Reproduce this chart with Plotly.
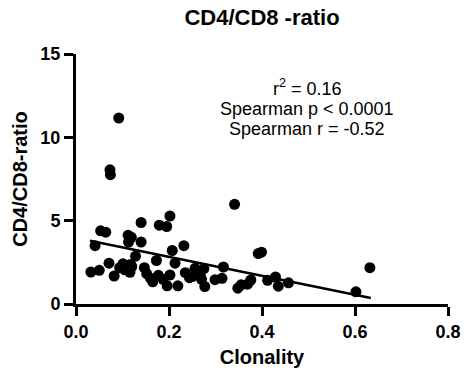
import plotly.graph_objects as go

clonality = [0.032, 0.050, 0.041, 0.053, 0.064, 0.071, 0.073, 0.074, 0.092, 0.082,
             0.094, 0.101, 0.108, 0.116, 0.117, 0.112, 0.119, 0.113, 0.128, 0.140,
             0.140, 0.147, 0.152, 0.165, 0.173, 0.177, 0.179, 0.187, 0.195, 0.202,
             0.196, 0.202, 0.207, 0.213, 0.219, 0.232, 0.235, 0.244, 0.256, 0.267,
             0.275, 0.270, 0.277, 0.299, 0.314, 0.317, 0.341, 0.348, 0.355, 0.369,
             0.376, 0.392, 0.399, 0.412, 0.429, 0.435, 0.457, 0.602, 0.632, 0.105,
             0.160, 0.250, 0.120]
ratio = [1.92, 2.02, 3.50, 4.39, 4.31, 2.45, 8.05, 7.76, 11.16, 1.68,
         2.18, 2.41, 2.18, 1.90, 2.37, 4.12, 4.00, 3.72, 2.87, 4.89,
         3.72, 2.18, 1.82, 1.33, 2.61, 1.72, 4.73, 1.48, 4.65, 5.28,
         1.09, 1.74, 3.21, 2.45, 1.09, 3.50, 1.88, 1.58, 2.14, 1.78,
         2.12, 1.48, 1.05, 1.46, 1.54, 2.22, 5.98, 0.95, 1.15, 1.19,
         1.44, 3.03, 3.11, 1.42, 1.62, 1.07, 1.27, 0.73, 2.18, 2.05,
         1.55, 1.65, 2.25]

fit_slope = -5.70
fit_intercept = 3.97
fit_range = [0.030, 0.634]

x_ticks = [0.0, 0.2, 0.4, 0.6, 0.8]
x_tick_labels = ["0.0", "0.2", "0.4", "0.6", "0.8"]
y_ticks = [0, 5, 10, 15]
y_tick_labels = ["0", "5", "10", "15"]

stats_lines = ["r<sup>2</sup> = 0.16", "Spearman p < 0.0001", "Spearman r = -0.52"]
stats_y = [12.98, 11.68, 10.49]

FONT = "Liberation Sans, Arial, sans-serif"

fig = go.Figure()
fig.add_trace(go.Scatter(
    x=clonality, y=ratio, mode="markers",
    marker=dict(color="black", size=11, line=dict(width=0)),
    cliponaxis=False, showlegend=False,
))
fig.add_trace(go.Scatter(
    x=fit_range, y=[fit_intercept + fit_slope * v for v in fit_range],
    mode="lines", line=dict(color="black", width=2.5),
    showlegend=False,
))

for txt, yy in zip(stats_lines, stats_y):
    fig.add_annotation(x=0.497, y=yy, xref="x", yref="y", text=txt,
                       showarrow=False, xanchor="center", yanchor="middle",
                       font=dict(family=FONT, size=18, color="black"))

axis_common = dict(
    showline=True, linecolor="black", linewidth=3,
    ticks="outside", ticklen=9, tickwidth=3, tickcolor="black",
    showgrid=False, zeroline=False,
    tickfont=dict(family=FONT, size=18, color="black"),
)

fig.update_layout(
    width=473, height=378,
    margin=dict(l=76, r=20, t=54, b=72),
    plot_bgcolor="white", paper_bgcolor="white",
    title=dict(text="<b>CD4/CD8 -ratio</b>", x=0.5, xref="paper", y=1 - 17 / 378,
               yref="container", xanchor="center", yanchor="middle",
               font=dict(family=FONT, size=22, color="black")),
    xaxis=dict(range=[0, 0.8], tickvals=x_ticks,
               ticktext=["<b>%s</b>" % t for t in x_tick_labels],
               title=dict(text="<b>Clonality</b>", standoff=10,
                          font=dict(family=FONT, size=20, color="black")),
               **axis_common),
    yaxis=dict(range=[0, 15], tickvals=y_ticks,
               ticktext=["<b>%s</b>" % t for t in y_tick_labels],
               title=dict(text="<b>CD4/CD8-ratio</b>", standoff=8,
                          font=dict(family=FONT, size=20, color="black")),
               **axis_common),
)

fig.write_html("out.html")
